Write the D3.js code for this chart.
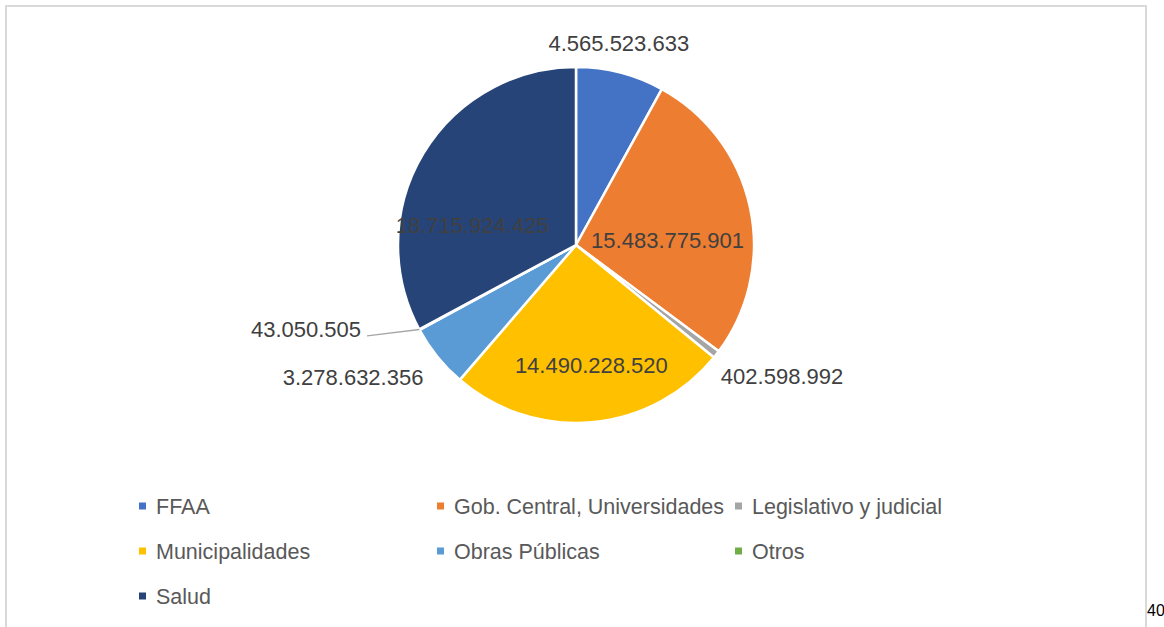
<!DOCTYPE html>
<html>
<head>
<meta charset="utf-8">
<script src="https://cdn.jsdelivr.net/npm/d3@7"></script>
<style>
  html, body { margin: 0; padding: 0; background: #fff; }
  svg { display: block; }
  text { font-family: "Liberation Sans", Arial, sans-serif; }
</style>
</head>
<body>
<svg id="chart" width="1164" height="627"></svg>
<script>
// Gasto por sector (montos en pesos)
const categories = ["FFAA", "Gob. Central, Universidades", "Legislativo y judicial",
  "Municipalidades", "Obras Públicas", "Otros", "Salud"];
const amounts = [4565523633, 15483775901, 402598992, 14490228520, 3278632356, 43050505, 18715924425];
const colors = ["#4472C4", "#ED7D31", "#A5A5A5", "#FFC000", "#5B9BD5", "#70AD47", "#264478"];

// Label placement: inside the slice or outside it, plus a small nudge
const labelMode = ["out", "in", "out", "in", "out", "leader", "in"];
const labelNudge = [[-9, 0], [-13, 18], [42, 3], [6, 14], [-61, 2], [-87, -15], [-12, 35]];

const fmt = v => d3.format(",")(v).replace(/,/g, ".");

const svg = d3.select("#chart");
const cx = 576, cy = 245, R = 178;

// Chart frame
svg.append("rect")
  .attr("x", 6).attr("y", 6).attr("width", 1140).attr("height", 640)
  .attr("fill", "none").attr("stroke", "#d9d9d9").attr("stroke-width", 2);

const data = categories.map((c, i) => ({ cat: c, value: amounts[i], color: colors[i], i }));

const pie = d3.pie().value(d => d.value).sort(null);
const arcs = pie(data);
const arc = d3.arc().innerRadius(0).outerRadius(R);
const inArc = d3.arc().innerRadius(107).outerRadius(107);
const outArc = d3.arc().innerRadius(208).outerRadius(208);
const edgeArc = d3.arc().innerRadius(R).outerRadius(R);

const g = svg.append("g").attr("transform", `translate(${cx},${cy})`);

g.selectAll("path.slice").data(arcs).enter().append("path")
  .attr("class", "slice")
  .attr("d", arc)
  .attr("fill", d => d.data.color)
  .attr("stroke", "#fff")
  .attr("stroke-width", 2.5)
  .attr("stroke-linejoin", "round");

// Value labels
arcs.forEach(d => {
  const i = d.data.i;
  const mode = labelMode[i];
  const base = mode === "in" ? inArc.centroid(d) : outArc.centroid(d);
  const x = base[0] + labelNudge[i][0];
  const y = base[1] + labelNudge[i][1];
  const t = g.append("text")
    .attr("x", x).attr("y", y)
    .attr("dy", "0.35em")
    .attr("text-anchor", "middle")
    .attr("font-size", 22)
    .attr("fill", "#404040")
    .text(fmt(d.value));
  if (mode === "leader") {
    const w = t.node().getComputedTextLength();
    const p = edgeArc.centroid(d);
    g.insert("polyline", "text")
      .attr("points", `${p[0]},${p[1]} ${x + w / 2 + 6},${y + 7}`)
      .attr("fill", "none")
      .attr("stroke", "#a6a6a6")
      .attr("stroke-width", 1.5);
  }
});

// Legend: three columns
const legend = svg.append("g");
const colX = [139, 437, 735];
const rowY = [506, 551, 596];
data.forEach((d, i) => {
  const lx = colX[i % 3], ly = rowY[Math.floor(i / 3)];
  legend.append("rect")
    .attr("x", lx).attr("y", ly - 3.5).attr("width", 7).attr("height", 7)
    .attr("fill", d.color);
  legend.append("text")
    .attr("x", lx + 17).attr("y", ly).attr("dy", "0.35em")
    .attr("font-size", 21.5).attr("fill", "#595959")
    .text(d.cat);
});

// Page number
svg.append("text")
  .attr("x", 1147).attr("y", 616)
  .attr("font-size", 16).attr("fill", "#000")
  .text("40");
</script>
</body>
</html>
